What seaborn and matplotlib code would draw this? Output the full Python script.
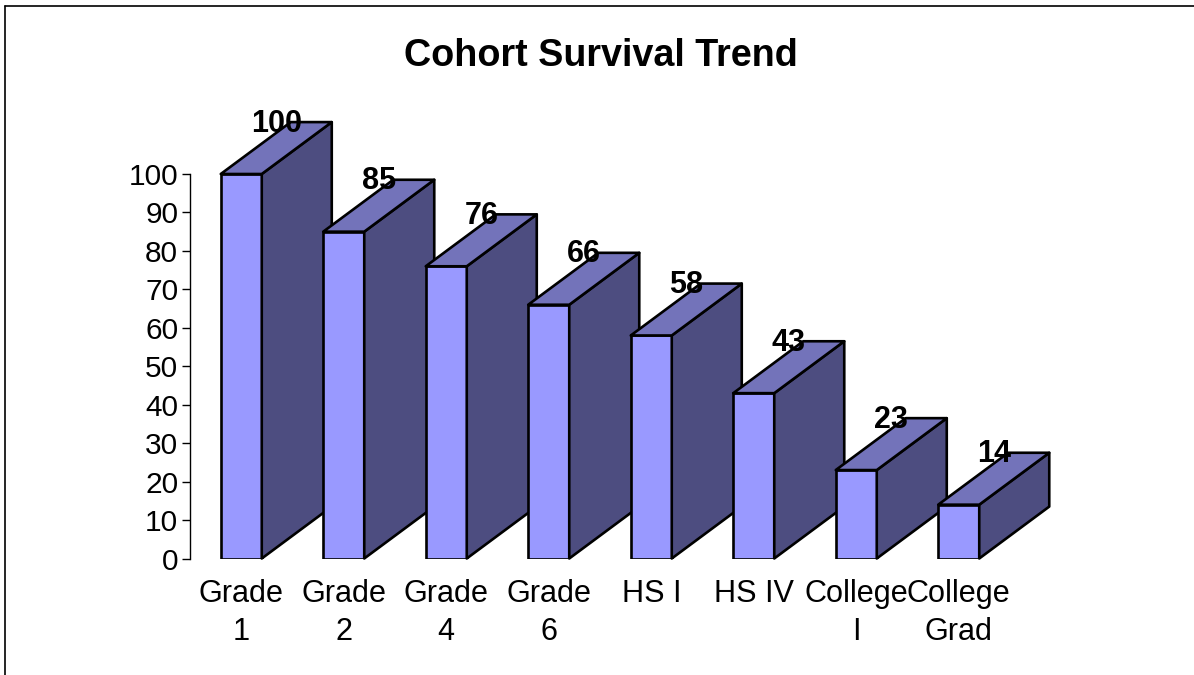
import matplotlib
matplotlib.use('Agg')
import matplotlib.pyplot as plt
from matplotlib.lines import Line2D
from matplotlib.patches import Polygon
import seaborn as sns

stages = ['Grade\n1', 'Grade\n2', 'Grade\n4', 'Grade\n6', 'HS I', 'HS IV', 'College\nI', 'College\nGrad']
survival = [100, 85, 76, 66, 58, 43, 23, 14]
y_ticks = list(range(0, 101, 10))

W, H = 1194, 675
bar_w = 0.4
# how far the 3d box goes back, in data units
depth_x = 0.683
depth_y = 13.5
edge_w = 1.9

sns.set_theme(style='white')
plt.rcParams['font.family'] = ['Liberation Sans', 'DejaVu Sans']

fig = plt.figure(figsize=(W / 100, H / 100), dpi=100)
ax = fig.add_axes([190 / W, 1 - 558.5 / H, 820 / W, 384.5 / H])

sns.barplot(x=stages, y=survival, color='#9999FF', saturation=1, width=bar_w,
            edgecolor='black', linewidth=edge_w, ax=ax)

# side and top faces, later bars cover earlier ones
for i, (bar, v) in enumerate(zip(ax.patches, survival)):
    bar.set_zorder(3 + i * 0.1)
    right = i + bar_w / 2
    left = i - bar_w / 2
    side = [(right, 0), (right + depth_x, depth_y), (right + depth_x, v + depth_y), (right, v)]
    top = [(left, v), (left + depth_x, v + depth_y), (right + depth_x, v + depth_y), (right, v)]
    ax.add_patch(Polygon(side, facecolor='#4D4D80', edgecolor='black', linewidth=edge_w,
                         joinstyle='round', clip_on=False, zorder=3 + i * 0.1))
    ax.add_patch(Polygon(top, facecolor='#7373BA', edgecolor='black', linewidth=edge_w,
                         joinstyle='round', clip_on=False, zorder=3 + i * 0.1))
    ax.text(i + depth_x / 2, v + depth_y - 0.4, str(v), ha='center', va='center',
            fontsize=22, fontweight='bold', color='black', zorder=10)

ax.set_xlim(-0.5, 7.5)
ax.set_ylim(0, 100)
ax.set_yticks(y_ticks)
ax.set_facecolor('none')
for s in ['top', 'right', 'bottom']:
    ax.spines[s].set_visible(False)
ax.spines['left'].set_color('black')
ax.spines['left'].set_linewidth(1)
ax.tick_params(axis='y', length=6, width=1, color='black', left=True, labelsize=21.5, pad=2.5)
ax.tick_params(axis='x', length=0, labelsize=22.1, pad=15)
for t in ax.get_xticklabels():
    t.set_linespacing(1.34)
    t.set_color('black')
for t in ax.get_yticklabels():
    t.set_color('black')
ax.set_xlabel('')
ax.set_ylabel('')

fig.text(600.5 / W, 1 - 56 / H, 'Cohort Survival Trend', ha='center', va='center',
         fontsize=27.2, fontweight='bold', color='black')

# frame around the slide, only top and left show
fig.add_artist(Line2D([5 / W, 5 / W], [0, 1 - 6 / H], color='black', linewidth=1.2))
fig.add_artist(Line2D([5 / W, 1], [1 - 6 / H, 1 - 6 / H], color='black', linewidth=1.2))

fig.savefig('out.png', dpi=100, facecolor='white')
